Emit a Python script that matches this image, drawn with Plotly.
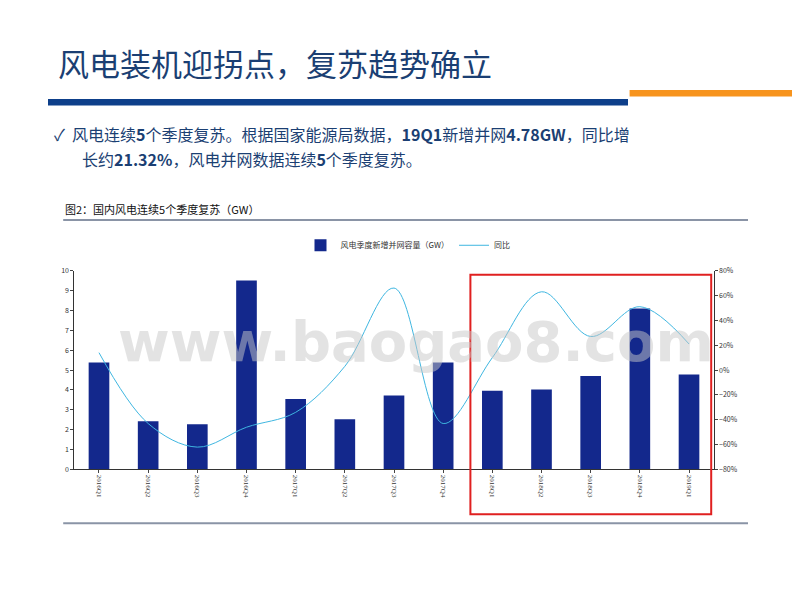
import plotly.graph_objects as go

quarters = ["2016Q1", "2016Q2", "2016Q3", "2016Q4", "2017Q1", "2017Q2", "2017Q3",
            "2017Q4", "2018Q1", "2018Q2", "2018Q3", "2018Q4", "2019Q1"]
capacity = [5.38, 2.42, 2.27, 9.5, 3.55, 2.52, 3.72, 5.38, 3.96, 4.02, 4.7, 8.1, 4.78]
yoy = [14, -43, -62, -46, -34, 3, 66, -43, 10, 63, 27, 51, 21]

DARK = "#1B3F73"
fig = go.Figure()

fig.add_trace(go.Bar(
    x=quarters, y=capacity, name="风电季度新增并网容量（GW）",
    marker=dict(color="#13288C", line=dict(width=0)), width=0.42,
))
fig.add_trace(go.Scatter(
    x=quarters, y=yoy, name="同比", yaxis="y2", mode="lines",
    line=dict(color="#3FB6E0", width=1, shape="spline", smoothing=1.0),
))

fig.update_layout(
    width=800, height=600, autosize=False,
    margin=dict(l=0, r=0, t=0, b=0),
    paper_bgcolor="white", plot_bgcolor="white",
    font=dict(family="Noto Sans CJK SC", color="#333"),
    showlegend=True,
    legend=dict(orientation="h", x=0.5, xanchor="center", y=0.608, yanchor="middle",
                font=dict(size=8, color="#333"), bgcolor="rgba(0,0,0,0)"),
    xaxis=dict(domain=[0.083, 0.882], tickangle=90, tickfont=dict(size=7, family="Liberation Serif"),
               showline=True, linecolor="#333", ticks="outside", ticklen=3, showgrid=False),
    yaxis=dict(range=[0, 10], dtick=1, tickfont=dict(size=7), showgrid=False,
               showline=True, linecolor="#333", ticks="outside", ticklen=3, zeroline=False,
               domain=[0.228, 0.565]),
    yaxis2=dict(range=[-80, 80], dtick=20, ticksuffix="%", overlaying="y", side="right",
                tickfont=dict(size=7), showgrid=False, showline=True, linecolor="#333",
                ticks="outside", ticklen=3, zeroline=False),
    bargap=0.5,
)

shapes = [
    dict(type="rect", xref="paper", yref="paper", x0=0.05, x1=0.775, y0=0.845, y1=0.856,
         fillcolor="#0D3F8A", line=dict(width=0)),
    dict(type="rect", xref="paper", yref="paper", x0=0.777, x1=1.0, y0=0.86, y1=0.871,
         fillcolor="#F7941D", line=dict(width=0)),
    dict(type="line", xref="paper", yref="paper", x0=0.069, x1=0.925, y0=0.651, y1=0.651,
         line=dict(color="#8A94A6", width=2)),
    dict(type="line", xref="paper", yref="paper", x0=0.069, x1=0.925, y0=0.137, y1=0.137,
         line=dict(color="#8A94A6", width=2)),
    dict(type="rect", xref="paper", yref="paper", x0=0.578, x1=0.879, y0=0.152, y1=0.558,
         line=dict(color="#E02020", width=2)),
]
fig.update_layout(shapes=shapes)

ann = [
    dict(text="风电装机迎拐点，复苏趋势确立", x=0.06, y=0.918, font=dict(size=31, color=DARK)),
    dict(text="✓  风电连续<b>5</b>个季度复苏。根据国家能源局数据，<b>19Q1</b>新增并网<b>4.78GW</b>，同比增",
         x=0.055, y=0.797, font=dict(size=16, color=DARK)),
    dict(text="长约<b>21.32%</b>，风电并网数据连续<b>5</b>个季度复苏。",
         x=0.09, y=0.755, font=dict(size=16, color=DARK)),
    dict(text="图2：国内风电连续5个季度复苏（GW）", x=0.069, y=0.67, font=dict(size=11, color="#111")),
    dict(text="<b>www.baogao8.com</b>", x=0.135, y=0.445, font=dict(size=56, color="rgba(200,200,200,0.5)",
                                                               family="DejaVu Sans")),
]
for a in ann:
    fig.add_annotation(xref="paper", yref="paper", xanchor="left", yanchor="middle",
                       showarrow=False, **a)

fig.write_html("out.html")
